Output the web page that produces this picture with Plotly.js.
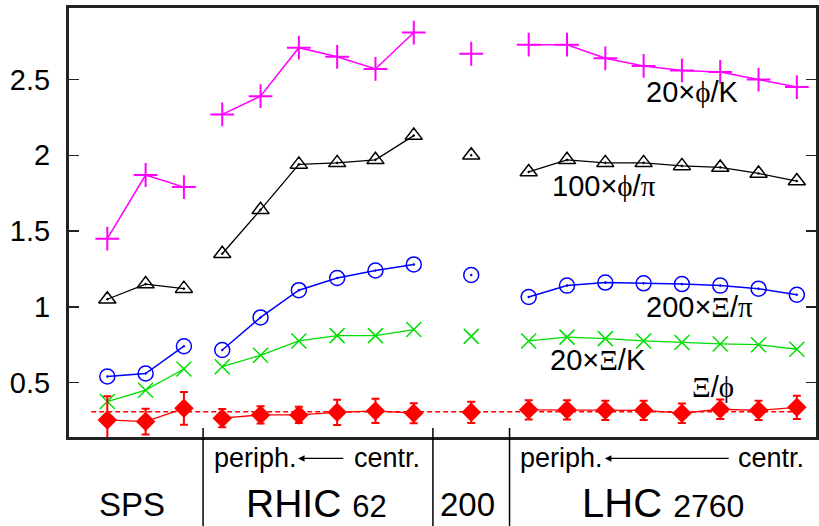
<!DOCTYPE html>
<html><head><meta charset="utf-8">
<script src="https://cdn.plot.ly/plotly-3.0.1.min.js"></script>
<style>html,body{margin:0;padding:0;background:#fff}#chart{width:819px;height:526px}</style>
</head><body><div id="chart"></div>
<script>
// group positions (category slots along x)
const posSPS = [0, 1, 2];
const posRHIC = [3, 4, 5, 6, 7, 8];
const pos200 = [9.5];
const posLHC = [11, 12, 13, 14, 15, 16, 17, 18];

// 20 x phi/K
const phiK_SPS = [1.45, 1.87, 1.79];
const phiK_RHIC = [2.27, 2.39, 2.71, 2.65, 2.57, 2.81];
const phiK_200 = [2.67];
const phiK_LHC = [2.73, 2.73, 2.64, 2.59, 2.56, 2.55, 2.50, 2.45];

// 100 x phi/pi
const phiPi_SPS = [1.05, 1.15, 1.12];
const phiPi_RHIC = [1.35, 1.64, 1.94, 1.95, 1.97, 2.13];
const phiPi_200 = [2.00];
const phiPi_LHC = [1.89, 1.97, 1.95, 1.95, 1.93, 1.92, 1.88, 1.83];

// 200 x Xi/pi
const xiPi_SPS = [0.54, 0.56, 0.74];
const xiPi_RHIC = [0.715, 0.93, 1.11, 1.19, 1.24, 1.28];
const xiPi_200 = [1.21];
const xiPi_LHC = [1.065, 1.14, 1.16, 1.155, 1.15, 1.14, 1.12, 1.08];

// 20 x Xi/K
const xiK_SPS = [0.375, 0.45, 0.59];
const xiK_RHIC = [0.605, 0.68, 0.775, 0.81, 0.81, 0.85];
const xiK_200 = [0.805];
const xiK_LHC = [0.775, 0.80, 0.79, 0.775, 0.765, 0.755, 0.75, 0.72];

// Xi/phi with errors
const xiPhi_SPS = [0.254, 0.243, 0.33];
const xiPhi_RHIC = [0.265, 0.287, 0.287, 0.304, 0.313, 0.298];
const xiPhi_200 = [0.304];
const xiPhi_LHC = [0.32, 0.32, 0.317, 0.317, 0.298, 0.324, 0.317, 0.337];
const xiPhiErr_SPS = [0.156, 0.085, 0.108];
const xiPhiErr_RHIC = [0.06, 0.057, 0.053, 0.083, 0.08, 0.066];
const xiPhiErr_200 = [0.07];
const xiPhiErr_LHC = [0.064, 0.064, 0.064, 0.064, 0.064, 0.064, 0.064, 0.077];
const xiPhiRef = 0.308;

const yTicks = [0.5, 1, 1.5, 2, 2.5];
const yTickText = ['0.5', '1', '1.5', '2', '2.5'];

function join(a, b, c, d) { return [...a, null, ...b, null, ...c, null, ...d]; }
const X = join(posSPS, posRHIC, pos200, posLHC);

const FONT = 'Liberation Sans, Arial, sans-serif';
const SERIF = 'Liberation Serif, Times New Roman, serif';

const traces = [
  {x: X, y: join(phiK_SPS, phiK_RHIC, phiK_200, phiK_LHC), mode: 'lines+markers',
   line: {color: '#ff00ff', width: 1.5},
   marker: {symbol: 'cross-thin-open', size: 17, color: '#ff00ff', line: {width: 2, color: '#ff00ff'}}},
  {x: X, y: join(phiPi_SPS, phiPi_RHIC, phiPi_200, phiPi_LHC), mode: 'lines+markers',
   line: {color: '#000000', width: 1.3},
   marker: {symbol: 'triangle-up-open-dot', size: 15, color: '#000', line: {width: 1.5, color: '#000'}}},
  {x: X, y: join(xiPi_SPS, xiPi_RHIC, xiPi_200, xiPi_LHC), mode: 'lines+markers',
   line: {color: '#0000ff', width: 1.5},
   marker: {symbol: 'circle-open-dot', size: 15, color: '#0000ff', line: {width: 1.5, color: '#0000ff'}}},
  {x: X, y: join(xiK_SPS, xiK_RHIC, xiK_200, xiK_LHC), mode: 'lines+markers',
   line: {color: '#00dd00', width: 1.3},
   marker: {symbol: 'x-thin-open', size: 15, color: '#00dd00', line: {width: 1.5, color: '#00dd00'}}},
  {x: X, y: join(xiPhi_SPS, xiPhi_RHIC, xiPhi_200, xiPhi_LHC), mode: 'lines+markers',
   line: {color: '#ff0000', width: 1.3},
   marker: {symbol: 'diamond', size: 15, color: '#ff0000'},
   error_y: {type: 'data', array: join(xiPhiErr_SPS, xiPhiErr_RHIC, xiPhiErr_200, xiPhiErr_LHC),
             visible: true, color: '#ff0000', thickness: 2, width: 4}}
];

const sepX = [2.5, 8.5, 10.5];
const shapes = sepX.map(v => ({type: 'line', xref: 'x', yref: 'paper', x0: v, x1: v, y0: 0.021, y1: -0.21,
  line: {color: '#000', width: 1.5}}));
shapes.push({type: 'line', xref: 'x', yref: 'y', x0: -0.42, x1: 18.15, y0: xiPhiRef, y1: xiPhiRef,
  line: {color: '#ff0000', width: 1.5, dash: '5px,3px'}, layer: 'below'});

const ann = [];
function lab(x, y, text, size, xanchor) {
  ann.push({xref: 'x', yref: 'y', x: x, y: y, text: text, showarrow: false,
    font: {family: FONT, size: size || 28, color: '#000'}, xanchor: xanchor || 'left', yanchor: 'middle'});
}
const phi = '<span style="font-family:' + SERIF + '">ϕ</span>';
const Xi = '<span style="font-family:' + SERIF + '">Ξ</span>';
const pi = '<span style="font-family:' + SERIF + '">π</span>';
lab(14.0, 2.42, '20×' + phi + '/K', 29);
lab(11.55, 1.80, '100×' + phi + '/' + pi, 29);
lab(14.0, 1.00, '200×' + Xi + '/' + pi, 29);
lab(11.5, 0.65, '20×' + Xi + '/K', 29);
lab(15.2, 0.47, Xi + '/' + phi, 29);

function bot(x, y, text, size) {
  ann.push({xref: 'x', yref: 'paper', x: x, y: y, text: text, showarrow: false,
    font: {family: FONT, size: size, color: '#000'}, xanchor: 'center', yanchor: 'middle'});
}
bot(3.86, -0.05, 'periph.', 27);
bot(7.3, -0.05, 'centr.', 27);
bot(11.85, -0.05, 'periph.', 27);
bot(17.33, -0.05, 'centr.', 27);
bot(0.65, -0.157, 'SPS', 33);
bot(5.45, -0.155, 'RHIC <span style="font-size:31px">62</span>', 39);
bot(9.41, -0.157, '200', 33);
bot(14.5, -0.155, 'LHC <span style="font-size:32px">2760</span>', 40);

function arrow(head, tail) {
  ann.push({xref: 'x', yref: 'paper', x: head, y: -0.05, axref: 'x', ayref: 'paper', ax: tail, ay: -0.05,
    text: '', showarrow: true, arrowhead: 2, arrowsize: 1, arrowwidth: 1.3, arrowcolor: '#000'});
}
arrow(4.98, 6.2);
arrow(12.99, 16.26);

const layout = {
  width: 819, height: 526,
  margin: {l: 69, r: 3, t: 8, b: 89},
  paper_bgcolor: '#ffffff', plot_bgcolor: '#ffffff',
  showlegend: false,
  font: {family: FONT, color: '#000'},
  xaxis: {range: [-1.0, 18.5], showgrid: false, zeroline: false, showticklabels: false, ticks: '',
          showline: true, linecolor: '#222', linewidth: 3, mirror: true},
  yaxis: {range: [0.141, 2.972], showgrid: false, zeroline: false, tickvals: yTicks, ticktext: yTickText,
          ticks: 'inside', ticklen: 10, tickwidth: 1.5, tickcolor: '#222', showline: true, linecolor: '#222',
          linewidth: 3, mirror: 'ticks', tickfont: {family: FONT, size: 29, color: '#000'}, ticklabelstandoff: 10},
  shapes: shapes,
  annotations: ann
};
Plotly.newPlot('chart', traces, layout, {displayModeBar: false, staticPlot: true});
</script></body></html>
